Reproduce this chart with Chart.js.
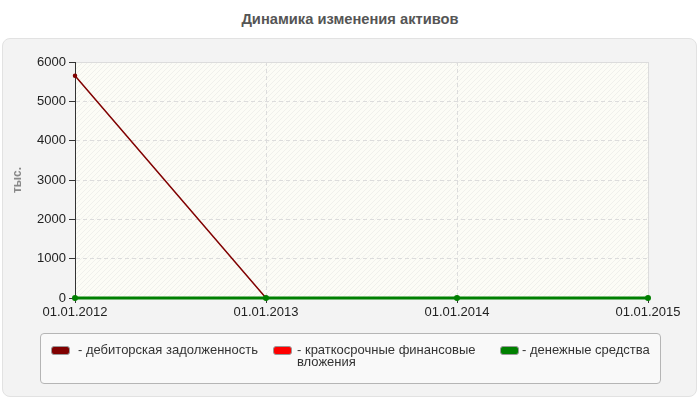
<!DOCTYPE html>
<html>
<head>
<meta charset="utf-8">
<script src="https://cdn.jsdelivr.net/npm/chart.js@4"></script>
<style>
  body { margin: 0; width: 700px; height: 400px; background: #fff; position: relative; overflow: hidden; font-family: "Liberation Sans", Arial, sans-serif; }
  #title { position: absolute; left: 0; top: 11px; width: 700px; text-align: center; font-weight: bold; font-size: 14.7px; color: #555; }
  #panel { position: absolute; left: 2px; top: 38px; width: 693px; height: 357px; background: #f3f3f3; border: 1px solid #e2e2e2; border-radius: 8px; }
  #chartWrap { position: absolute; left: 0; top: 0; width: 700px; height: 400px; }
  #legend { position: absolute; left: 40px; top: 333px; width: 619px; height: 49px; background: #f9f9f9; border: 1px solid #b5b5b5; border-radius: 4px; }
  .item { position: absolute; top: 9px; font-size: 13px; color: #333; line-height: 12px; }
  .item .sw { position: absolute; left: 0; top: 3px; width: 17px; height: 7px; border-radius: 3px; border: 1px solid #999; }
  .item .tx { position: absolute; top: 1px; }
</style>
</head>
<body>
<div id="title">Динамика изменения активов</div>
<div id="panel"></div>
<div id="chartWrap"><canvas id="assetsChart" width="700" height="400"></canvas></div>
<div id="legend"></div>

<script>
// Data
const dates = ['01.01.2012', '01.01.2013', '01.01.2014', '01.01.2015'];
const receivables = [5650, 0, 0, 0];
const shortInvestments = [0, 0, 0, 0];
const cash = [0, 0, 0, 0];
const seriesNames = ['- дебиторская задолженность', '- краткосрочные финансовые вложения', '- денежные средства'];
const seriesColors = ['#800000', '#ff0000', '#008000'];
const yTicks = [0, 1000, 2000, 3000, 4000, 5000, 6000];

// HTML legend
const legendEl = document.getElementById('legend');
const itemLeft = [10, 232, 459];
const itemWidth = [215, 205, 165];
const textOffset = [27, 24, 22];
seriesNames.forEach((name, i) => {
    const d = document.createElement('div');
    d.className = 'item';
    d.style.left = itemLeft[i] + 'px';
    d.style.width = itemWidth[i] + 'px';
    d.innerHTML = '<span class="sw" style="background:' + seriesColors[i] + '"></span><span class="tx"></span>';
    const tx = d.querySelector('.tx');
    tx.textContent = name;
    tx.style.left = textOffset[i] + 'px';
    tx.style.width = (itemWidth[i] - textOffset[i]) + 'px';
    legendEl.appendChild(d);
});

// hatched plot background
function makePattern() {
    const c = document.createElement('canvas');
    c.width = 5; c.height = 5;
    const g = c.getContext('2d');
    g.fillStyle = '#fcfcf6';
    g.fillRect(0, 0, 5, 5);
    g.strokeStyle = '#f0f0ec';
    g.lineWidth = 1;
    g.beginPath();
    g.moveTo(0, 5); g.lineTo(5, 0);
    g.moveTo(-2.5, 2.5); g.lineTo(2.5, -2.5);
    g.moveTo(2.5, 7.5); g.lineTo(7.5, 2.5);
    g.stroke();
    return g.createPattern(c, 'repeat');
}

const plotBg = {
    id: 'plotBg',
    beforeDraw(chart) {
        const { ctx, chartArea: a } = chart;
        ctx.save();
        ctx.fillStyle = makePattern();
        ctx.fillRect(a.left, a.top, a.right - a.left, a.bottom - a.top);
        ctx.strokeStyle = '#dcdcdc';
        ctx.lineWidth = 1;
        ctx.strokeRect(a.left + 0.5, a.top + 0.5, a.right - a.left, a.bottom - a.top);
        ctx.restore();
    }
};

const ctx = document.getElementById('assetsChart').getContext('2d');
const datasetsData = [receivables, shortInvestments, cash];
const drawOrder = [2, 1, 0]; // green on top

const assetsChart = new Chart(ctx, {
    type: 'line',
    data: {
        labels: dates,
        datasets: datasetsData.map((vals, i) => ({
            label: seriesNames[i],
            data: vals,
            order: drawOrder[i],
            borderColor: seriesColors[i],
            backgroundColor: seriesColors[i],
            borderWidth: i === 2 ? 3 : 1.5,
            pointRadius: 1.5,
            pointHoverRadius: 1.5,
            tension: 0,
            fill: false,
            clip: false
        }))
    },
    options: {
        responsive: false,
        animation: false,
        layout: { padding: { left: 5, right: 52, top: 62, bottom: 72 } },
        plugins: {
            title: { display: false },
            legend: { display: false },
            tooltip: { enabled: false }
        },
        scales: {
            x: {
                offset: false,
                grid: { color: '#dcdcdc', tickLength: 5, tickColor: '#333' },
                border: { color: '#333', width: 1, dash: [4, 3] },
                ticks: { color: '#222', font: { size: 13, family: 'Liberation Sans' }, padding: 2, maxRotation: 0 },
                afterFit: scale => { scale.height = 30; }
            },
            y: {
                min: 0,
                max: 6000,
                afterBuildTicks: scale => { scale.ticks = yTicks.map(v => ({ value: v })); },
                grid: { color: '#dcdcdc', tickLength: 6, tickColor: '#333' },
                border: { color: '#333', width: 1, dash: [4, 3] },
                ticks: { color: '#222', font: { size: 13, family: 'Liberation Sans' }, padding: 3, callback: v => String(v) },
                title: { display: true, text: 'тыс.', color: '#888', font: { size: 12, weight: 'bold', family: 'Liberation Sans' }, padding: { top: 5, bottom: 0 } },
                afterFit: scale => { scale.width = 70; }
            }
        }
    },
    plugins: [plotBg]
});
</script>
</body>
</html>
